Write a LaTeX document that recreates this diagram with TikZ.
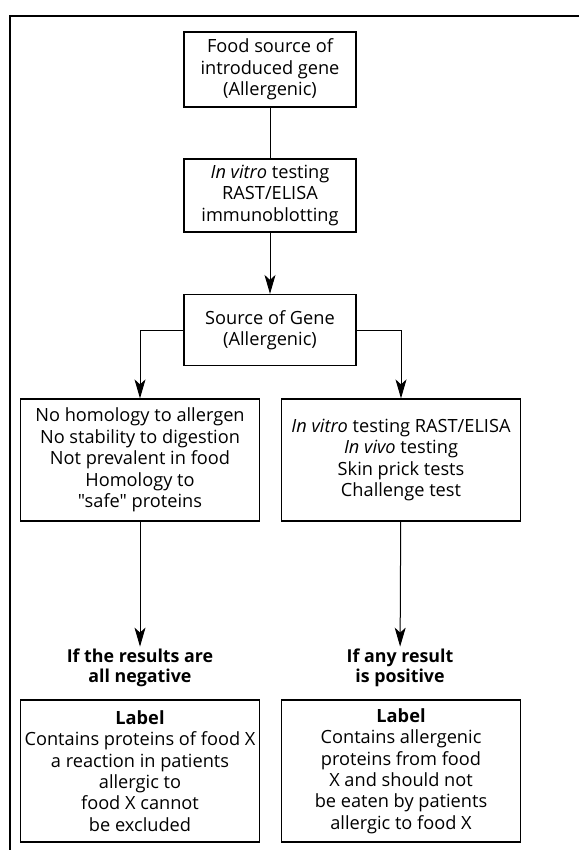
\documentclass[tikz,border=0pt]{standalone}
\usepackage{fontspec}
\setmainfont{Open Sans}[Ligatures=TeXOff]
\usetikzlibrary{arrows.meta,positioning}

\begin{document}
\begin{tikzpicture}[x=1pt,y=1pt]
\tikzstyle{rect}=[rectangle, draw=black, line width=1.2pt, align=center, inner sep=2pt, font=\fontsize{18.2}{21.4}\selectfont]
\tikzstyle{small}=[rect, minimum width=172pt, minimum height=73pt]
\tikzstyle{wide}=[rect, minimum width=239pt, minimum height=122pt]
\tikzstyle{label}=[rect, minimum width=239pt, minimum height=142pt]
\tikzstyle{result}=[align=center, inner sep=2pt, font=\fontsize{17.8}{20.5}\selectfont\bfseries]
\tikzstyle{line}=[line width=1pt]
\tikzstyle{connect}=[line, -{Stealth[length=19pt, width=11pt, inset=5pt]}]

  \useasboundingbox (0,0) rectangle (579,-850);
  % frame, cut at right and bottom
  \draw [line width=1.2pt] (579,-16) -| (10,-850);

  \node[small, minimum height=75pt] (food) at (270,-69.5) {Food source of\\introduced gene\\(Allergenic)};
  \node[small] (vitro)  [below of =food,  node distance=126pt] {\textit{In vitro} testing\\RAST/ELISA\\immunoblotting};
  \node[small, minimum height=71pt] (gene) [below of =vitro, node distance=134.5pt] {Source of Gene\\(Allergenic)};

  \node[wide] (none) [below of =gene, node distance=130pt, xshift=-130pt] {No homology to allergen\\No stability to digestion\\Not prevalent in food\\Homology to\\"safe" proteins};
  \node[wide] (tests) [below of =gene, node distance=130pt, xshift=131pt] {\textit{In vitro} testing RAST/ELISA\\\textit{In vivo} testing\\Skin prick tests\\Challenge test};

  \node[result] (neg) at (140,-668) {If the results are\\all negative};
  \node[result] (pos) at (400,-668) {If any result\\is positive};

  \node[label] (negl) [below of =none,  node distance=311pt] {\textbf{Label}\\Contains proteins of food X\\a reaction in patients\\allergic to\\food X cannot\\be excluded};
  \node[label] (posl) [below of =tests, node distance=311pt] {\textbf{Label}\\Contains allergenic\\proteins from food\\X and should not\\be eaten by patients\\allergic to food X};

  \path (food)  edge [line]    (vitro);
  \path (vitro) edge [connect] (gene);
  \draw [connect] (gene.west) -| (none.north);
  \draw [connect] (gene.east) -| (tests.north);
  \path (none)  edge [connect] (neg);
  \path (tests) edge [connect] (pos);

\end{tikzpicture}
\end{document}
